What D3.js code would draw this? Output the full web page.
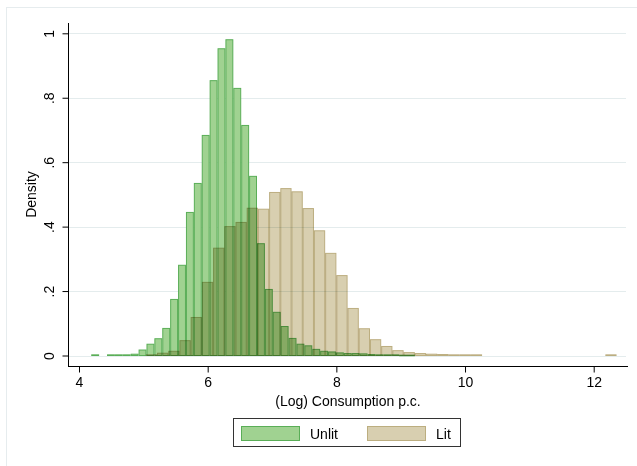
<!doctype html>
<html lang="en">
<head>
  <meta charset="utf-8">
  <title>Consumption histogram</title>
  <style>
    body { margin: 0; background: #fff; }
    svg { display: block; font-family: "Liberation Sans", Arial, sans-serif; }
    .grid line { stroke: #e4eced; stroke-width: 1; }
    .axis path, .axis line { stroke: #000; stroke-width: 1; }
    .axis text { font-size: 14px; fill: #000; }
    .unlit { fill: #a0d291; stroke: #5aae57; stroke-width: 1; }
    .lit { fill: #d8cfb0; stroke: #bcae80; stroke-width: 1; mix-blend-mode: multiply; }
  </style>
</head>
<body>
  <script src="https://d3js.org/d3.v7.min.js"></script>
  <script>
(function() {

// histogram bins: start of first bin, bin width, densities per bin
var unlitStart = 4.19;
var unlitWidth = 0.1227;
var unlitDensity = [
  0.002, 0, 0.002, 0.002, 0.002, 0.004, 0.017, 0.035, 0.052, 0.084,
  0.174, 0.280, 0.444, 0.534, 0.683, 0.853, 0.952, 0.980, 0.829, 0.714,
  0.556, 0.347, 0.205, 0.134, 0.090, 0.053, 0.035, 0.030, 0.019, 0.013,
  0.011, 0.008, 0.006, 0.006, 0.005, 0.003, 0.002, 0.002, 0.002, 0.001,
  0.001
];

var litStart = 5.039;
var litWidth = 0.1742;
var litDensity = [
  0.002, 0.007, 0.013, 0.046, 0.118, 0.227, 0.333, 0.400, 0.413, 0.457,
  0.454, 0.506, 0.518, 0.508, 0.456, 0.387, 0.317, 0.248, 0.146, 0.083,
  0.049, 0.028, 0.015, 0.009, 0.006, 0.004, 0.003, 0.002, 0.002, 0.002,
  0, 0, 0, 0, 0, 0, 0, 0, 0, 0,
  0, 0.002
];

var xTicks = [4, 6, 8, 10, 12];
var yTicks = [0, 0.2, 0.4, 0.6, 0.8, 1];
var yTickLabels = ["0", ".2", ".4", ".6", ".8", "1"];
var legendNames = ["Unlit", "Lit"];

var W = 637, H = 466;
var plotLeft = 68, plotRight = 628, plotTop = 23, plotBottom = 366;

var x = d3.scaleLinear().domain([4, 12]).range([79, 593.7]);
var y = d3.scaleLinear().domain([0, 1]).range([355.5, 33.3]);

var svg = d3.select("body").append("svg")
    .attr("width", W)
    .attr("height", H);

// outer graph region frame
svg.append("rect")
    .attr("x", 6.5).attr("y", 7.5)
    .attr("width", W).attr("height", H)
    .attr("fill", "none")
    .attr("stroke", "#e6ecee");

// gridlines
svg.append("g").attr("class", "grid")
  .selectAll("line").data(yTicks).enter().append("line")
    .attr("x1", plotLeft).attr("x2", 626)
    .attr("y1", function(d) { return Math.round(y(d)) + 0.5; })
    .attr("y2", function(d) { return Math.round(y(d)) + 0.5; });

var toBins = function(start, width, dens) {
  var out = [];
  dens.forEach(function(d, i) {
    if (d > 0) out.push({x0: start + i * width, x1: start + (i + 1) * width, d: d});
  });
  return out;
};

var drawBars = function(cls, bins) {
  svg.append("g").selectAll("rect").data(bins).enter().append("rect")
    .attr("class", cls)
    .attr("x", function(b) { return x(b.x0) + 0.5; })
    .attr("width", function(b) { return x(b.x1) - x(b.x0) - 1; })
    .attr("y", function(b) { return y(b.d); })
    .attr("height", function(b) { return Math.max(0.6, y(0) - y(b.d)); });
};

drawBars("unlit", toBins(unlitStart, unlitWidth, unlitDensity));
drawBars("lit", toBins(litStart, litWidth, litDensity));

// y axis
var yAxis = svg.append("g").attr("class", "axis")
    .attr("transform", "translate(" + (plotLeft + 0.5) + ",0)")
    .call(d3.axisLeft(y).tickValues(yTicks)
      .tickFormat(function(d, i) { return yTickLabels[i]; })
      .tickSize(6).tickSizeOuter(0));
yAxis.select(".domain").attr("d", "M0," + plotTop + "V" + plotBottom);
yAxis.selectAll(".tick text")
    .attr("x", null).attr("dy", null)
    .attr("text-anchor", "middle")
    .attr("transform", "translate(-14.5,0) rotate(-90)");

// x axis
var xAxis = svg.append("g").attr("class", "axis")
    .attr("transform", "translate(0," + (plotBottom + 0.5) + ")")
    .call(d3.axisBottom(x).tickValues(xTicks).tickSize(6).tickSizeOuter(0));
xAxis.select(".domain").attr("d", "M" + plotLeft + ",0H" + plotRight);
xAxis.selectAll(".tick text").attr("y", 20).attr("dy", null);

// axis titles
svg.append("text")
    .attr("transform", "translate(36," + ((plotTop + plotBottom) / 2) + ") rotate(-90)")
    .attr("text-anchor", "middle")
    .attr("font-size", 14)
    .text("Density");

svg.append("text")
    .attr("x", (plotLeft + plotRight) / 2)
    .attr("y", 406)
    .attr("text-anchor", "middle")
    .attr("font-size", 14)
    .text("(Log) Consumption p.c.");

// legend
var legend = svg.append("g");
legend.append("rect")
    .attr("x", 233.5).attr("y", 418.5)
    .attr("width", 227).attr("height", 28)
    .attr("fill", "#fff").attr("stroke", "#333");

var items = legend.selectAll("g.item").data(legendNames).enter().append("g")
    .attr("transform", function(d, i) { return "translate(" + (241 + i * 126) + ",426)"; });
items.append("rect")
    .attr("class", function(d, i) { return i === 0 ? "unlit" : "lit"; })
    .style("mix-blend-mode", "normal")
    .attr("x", 0.5).attr("y", 0.5)
    .attr("width", 58).attr("height", 14);
items.append("text")
    .attr("x", 69).attr("y", 12.5)
    .attr("font-size", 14)
    .text(function(d) { return d; });

})();
  </script>
</body>
</html>
